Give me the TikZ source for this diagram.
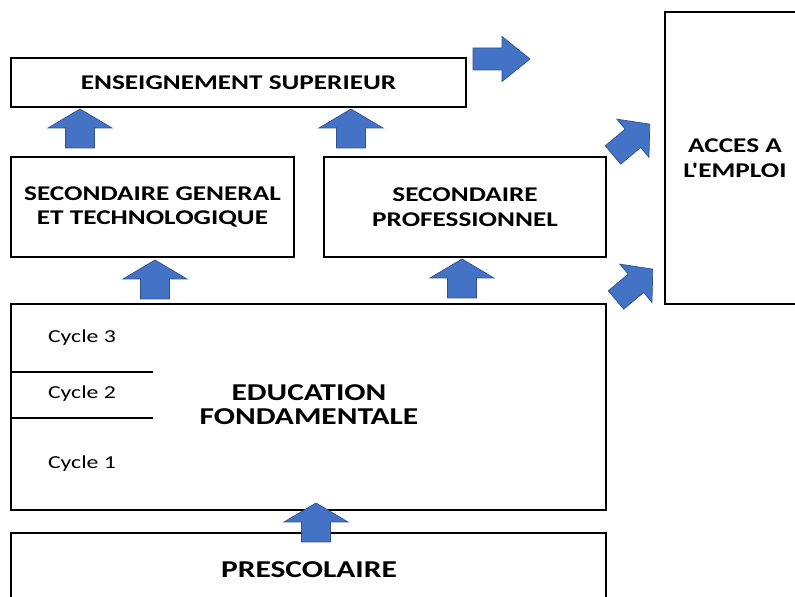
\documentclass[tikz,border=0pt]{standalone}
\usepackage{fontspec}
\newfontfamily\boxfont[FakeStretch=1.3]{Carlito}
\definecolor{arrowblue}{HTML}{4472C4}
\definecolor{arrowedge}{HTML}{2F528F}
\tikzset{
	box/.style={draw=black,line width=1.4pt,inner sep=0pt,align=center,
		font=\boxfont\bfseries\fontsize{14.9}{17.5}\selectfont},
	bigtext/.style={align=center,font=\boxfont\bfseries\fontsize{17.2}{17}\selectfont},
	cycletext/.style={font=\boxfont\fontsize{13}{14}\selectfont},
	arrowfill/.style={fill=arrowblue,draw=arrowedge,line width=0.5pt,line join=miter},
	pics/blockarrow/.style n args={4}{code={
		\draw[arrowfill] (0,-#4) -- (#1-#2,-#4) -- (#1-#2,-#3) -- (#1,0)
			-- (#1-#2,#3) -- (#1-#2,#4) -- (0,#4) -- cycle;
	}}
}
\begin{document}
\begin{tikzpicture}[x=0.025cm,y=0.025cm]
	\useasboundingbox (0,0) rectangle (795,597);
	\clip (0,0) rectangle (795,597);
	\node[box,minimum width=11.375cm,minimum height=1.225cm] (sup) at (238.5,514.5) {ENSEIGNEMENT SUPERIEUR};
	\node[box,minimum width=7.075cm,minimum height=2.5cm] (secgen) at (152.5,390) {SECONDAIRE GENERAL\\ET TECHNOLOGIQUE};
	\node[box,minimum width=7.05cm,minimum height=2.5cm] (secpro) at (465,390) {SECONDAIRE\\PROFESSIONNEL};
	\node[box,minimum width=14.875cm,minimum height=5.15cm] (fond) at (308.5,190) {};
	\node[bigtext] (fondtxt) at (309,192) {EDUCATION\\FONDAMENTALE};
	\node[box,minimum width=14.875cm,minimum height=2cm] (presco) at (308.5,24) {};
	\node[bigtext] (prescotxt) at (309,27) {PRESCOLAIRE};
	\node[box,minimum width=3.5cm,minimum height=7.3cm] (emploi) at (735,439) {ACCES A\\L'EMPLOI};
	\draw[line width=0.8pt] (fond.west |- 0,225) -- (153,225);
	\draw[line width=0.8pt] (fond.west |- 0,179) -- (153,179);
	\node[cycletext] (cyc3) at (82,259) {Cycle 3};
	\node[cycletext] (cyc2) at (82,203) {Cycle 2};
	\node[cycletext] (cyc1) at (82,133) {Cycle 1};
	\pic[rotate=90] at (80,449) {blockarrow={39}{19}{32}{14.5}};
	\pic[rotate=90] at (351,449) {blockarrow={39}{19}{32}{14.5}};
	\pic[rotate=90] at (155,298) {blockarrow={39}{19}{32}{14.5}};
	\pic[rotate=90] at (462,299) {blockarrow={39}{19}{32}{14.5}};
	\pic[rotate=90] at (316,55) {blockarrow={39}{19}{32}{14.5}};
	\pic at (473,538) {blockarrow={57}{28}{22.5}{11}};
	\pic[rotate=40] at (613,442) {blockarrow={48}{22}{25}{12}};
	\pic[rotate=40] at (616,297) {blockarrow={48}{22}{25}{12}};
\end{tikzpicture}
\end{document}
